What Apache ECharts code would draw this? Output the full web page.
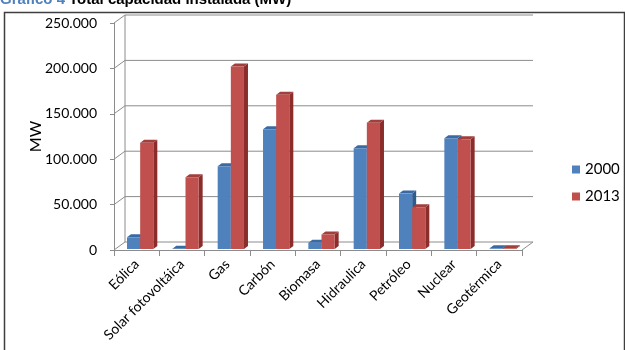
<!DOCTYPE html>
<html>
<head>
<meta charset="utf-8">
<script src="https://cdn.jsdelivr.net/npm/echarts@6/dist/echarts.min.js"></script>
<style>
  html, body { margin: 0; padding: 0; background: #fff; }
  #chart { width: 625px; height: 350px; }
</style>
</head>
<body>
<div id="chart"></div>
<script>
  // datos
  var categorias = ['Eólica', 'Solar fotovoltáica', 'Gas', 'Carbón', 'Biomasa', 'Hidraulica', 'Petróleo', 'Nuclear', 'Geotérmica'];
  var datos2000 = [12900, 200, 91000, 132000, 7000, 111000, 61000, 122000, 800];
  var datos2013 = [117000, 79000, 201000, 170000, 16000, 139000, 46000, 121000, 800];
  var ticksY = [0, 50000, 100000, 150000, 200000, 250000];

  var chart = echarts.init(document.getElementById('chart'));
  var FONT = 'Lato';
  // profundidad del "3D"
  var DX = 11, DY = -8;
  var BDX = 4, BDY = -3;

  function fmtMiles(v) {
    return String(v).replace(/\B(?=(\d{3})+(?!\d))/g, '.');
  }

  //barra 3d
  function barra(idx, cFront, cSide, cTop) {
    return function(params, api) {
      var ci = api.value(0), v = api.value(1);
      var base = api.coord([ci, 0]);
      var top = api.coord([ci, v]);
      var band = api.size([1, 0])[0];
      var w = band * 0.29;
      var x0 = base[0] + DX / 2 - (2 * w + BDX) / 2 + idx * w;
      var x1 = x0 + w;
      var oy = -1;
      var yb = base[1] + oy, yt = top[1] + oy;
      return {
        type: 'group',
        children: [
          { type: 'polygon', shape: { points: [[x1, yb], [x1 + BDX, yb + BDY], [x1 + BDX, yt + BDY], [x1, yt]] }, style: { fill: cSide } },
          { type: 'polygon', shape: { points: [[x0, yt], [x1, yt], [x1 + BDX, yt + BDY], [x0 + BDX, yt + BDY]] }, style: { fill: cTop } },
          { type: 'rect', shape: { x: x0, y: yt, width: w, height: yb - yt }, style: { fill: cFront } }
        ]
      };
    };
  }

  //paredes y rejilla
  function marco(params, api) {
    var n = categorias.length;
    var kids = [];
    var lineStyle = { stroke: '#8c8c8c', lineWidth: 1, fill: null };
    var band = api.size([1, 0])[0];
    for (var i = 0; i < ticksY.length; i++) {
      var a = api.coord([0, ticksY[i]]);
      var b = api.coord([n - 1, ticksY[i]]);
      var xa = a[0] - band / 2, xb = b[0] + band / 2;
      kids.push({ type: 'polyline', shape: { points: [[xa, a[1]], [xa + DX, a[1] + DY], [xb + DX, b[1] + DY]] }, style: lineStyle });
    }
    var p0 = api.coord([0, 0]), p1 = api.coord([0, ticksY[ticksY.length - 1]]);
    var q0 = api.coord([n - 1, 0]);
    var xl = p0[0] - band / 2, xr = q0[0] + band / 2;
    kids.push({ type: 'line', shape: { x1: xl + DX, y1: p0[1] + DY, x2: xl + DX, y2: p1[1] + DY }, style: lineStyle });
    kids.push({ type: 'line', shape: { x1: xr, y1: q0[1], x2: xr + DX, y2: q0[1] + DY }, style: lineStyle });
    return { type: 'group', children: kids };
  }

  var option = {
    backgroundColor: '#fff',
    animation: false,
    textStyle: { fontFamily: FONT },
    graphic: [
      {
        type: 'rect', left: 2, top: 10,
        shape: { width: 620, height: 345 },
        style: { fill: 'none', stroke: '#3f3f3f', lineWidth: 1.5 }
      },
      {
        type: 'text', left: 0, top: -8,
        style: { text: 'Gráfico 4', fontSize: 15, fontWeight: 'bold', fontFamily: 'Liberation Sans', fill: '#4F81BD' }
      },
      {
        type: 'text', left: 69, top: -8,
        style: { text: 'Total capacidad instalada (MW)', fontSize: 15, fontWeight: 'bold', fontFamily: 'Liberation Sans', fill: '#000' }
      }
    ],
    legend: {
      orient: 'vertical',
      left: 567, top: 157,
      itemWidth: 8, itemHeight: 8, itemGap: 12,
      icon: 'rect',
      textStyle: { fontFamily: FONT, fontSize: 15, color: '#000' },
      data: ['2000', '2013']
    },
    grid: { left: 114, right: 103, top: 23, bottom: 100 },
    xAxis: {
      type: 'category',
      data: categorias,
      axisLine: { show: true, lineStyle: { color: '#8c8c8c' } },
      axisTick: { show: true, length: 6, lineStyle: { color: '#8c8c8c' } },
      axisLabel: { rotate: 45, fontSize: 14, color: '#000', margin: 12, fontFamily: FONT }
    },
    yAxis: {
      type: 'value',
      min: 0, max: 250000, interval: 50000,
      name: 'MW', nameLocation: 'middle', nameRotate: 90, nameGap: 70,
      nameMoveOverlap: false,
      nameTextStyle: { fontSize: 16, color: '#000', fontFamily: FONT },
      axisLine: { show: true, lineStyle: { color: '#8c8c8c' } },
      axisTick: { show: true, length: 4, lineStyle: { color: '#8c8c8c' } },
      axisLabel: { fontSize: 14, color: '#000', margin: 17, formatter: fmtMiles, fontFamily: FONT },
      splitLine: { show: false }
    },
    series: [
      {
        name: 'marco', type: 'custom', silent: true, z: 1,
        renderItem: marco,
        data: [[0, 0]]
      },
      {
        name: '2000', type: 'custom', z: 2,
        itemStyle: { color: '#4F81BD' },
        renderItem: barra(0, '#4F81BD', '#2f5a8c', '#3a6aa3'),
        data: datos2000.map(function(v, i) { return [i, v]; })
      },
      {
        name: '2013', type: 'custom', z: 3,
        itemStyle: { color: '#C0504D' },
        renderItem: barra(1, '#C0504D', '#8a2d2b', '#a23e3b'),
        data: datos2013.map(function(v, i) { return [i, v]; })
      }
    ]
  };
  chart.setOption(option);
</script>
</body>
</html>
